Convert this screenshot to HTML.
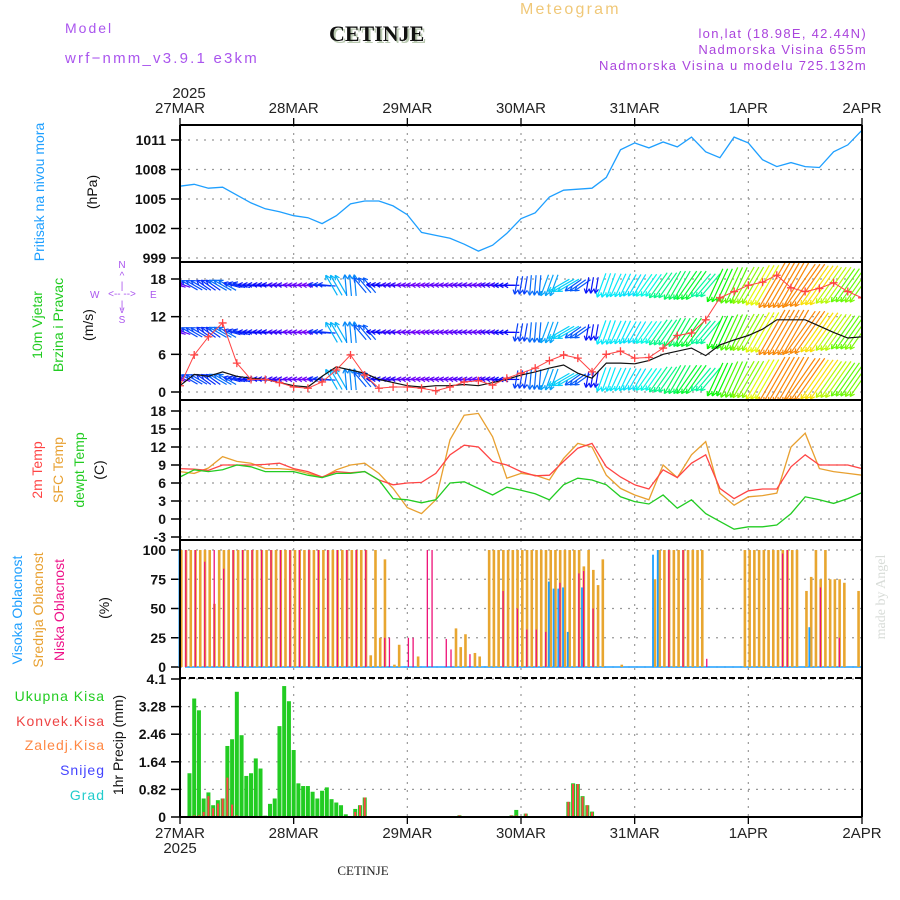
<!DOCTYPE html>
<html><head><meta charset="utf-8"><style>
html,body{margin:0;padding:0;background:#fff;}
svg{display:block;font-family:"Liberation Sans",sans-serif;}
</style></head><body>
<svg id="c" width="900" height="900" viewBox="0 0 900 900" xmlns="http://www.w3.org/2000/svg">
<text x="65" y="33" fill="#aa55ee" font-size="14" letter-spacing="2">Model</text>
<text x="65" y="63" fill="#aa55ee" font-size="15" letter-spacing="2.2">wrf−nmm_v3.9.1 e3km</text>
<text x="331" y="43" font-family="Liberation Serif,serif" font-weight="bold" font-size="22" fill="#b8c8b0">CETINJE</text>
<text x="329" y="41" font-family="Liberation Serif,serif" font-weight="bold" font-size="22" fill="#111">CETINJE</text>
<text x="520" y="14" fill="#f0c878" font-size="16" letter-spacing="2.2">Meteogram</text>
<text x="867" y="38" text-anchor="end" fill="#aa44dd" font-size="13" letter-spacing="1.3">lon,lat (18.98E, 42.44N)</text>
<text x="867" y="54" text-anchor="end" fill="#aa44dd" font-size="13" letter-spacing="1.3">Nadmorska Visina 655m</text>
<text x="867" y="70" text-anchor="end" fill="#aa44dd" font-size="13" letter-spacing="1.3">Nadmorska Visina u modelu 725.132m</text>
<text x="189" y="98" text-anchor="middle" fill="#222" font-size="15">2025</text>
<text x="180" y="853" text-anchor="middle" fill="#222" font-size="15">2025</text>
<text x="363" y="875" text-anchor="middle" font-family="Liberation Serif,serif" font-size="13" fill="#222">CETINJE</text>
<text transform="translate(885,597) rotate(-90)" text-anchor="middle" font-family="Liberation Serif,serif" font-size="14" fill="#d8dcd8">made by Angel</text>
<text transform="translate(44,192) rotate(-90)" text-anchor="middle" fill="#1e9fff" font-size="14">Pritisak na nivou mora</text>
<text transform="translate(97,192) rotate(-90)" text-anchor="middle" fill="#111" font-size="14">(hPa)</text>
<text transform="translate(42,325) rotate(-90)" text-anchor="middle" fill="#22cc22" font-size="14">10m Vjetar</text>
<text transform="translate(63,325) rotate(-90)" text-anchor="middle" fill="#22cc22" font-size="14">Brzina i Pravac</text>
<text transform="translate(93,325) rotate(-90)" text-anchor="middle" fill="#111" font-size="14">(m/s)</text>
<g fill="#aa55ee" font-size="10">
<text x="122" y="268" text-anchor="middle">N</text><text x="122" y="279" text-anchor="middle">^</text><text x="122" y="289" text-anchor="middle">|</text>
<text x="122" y="297" text-anchor="middle">&lt;-- --&gt;</text><text x="90" y="298">W</text><text x="150" y="298">E</text>
<text x="122" y="308" text-anchor="middle">|</text><text x="122" y="313" text-anchor="middle">v</text><text x="122" y="323" text-anchor="middle">S</text>
</g>
<text transform="translate(42,470) rotate(-90)" text-anchor="middle" fill="#ff4444" font-size="14">2m Temp</text>
<text transform="translate(63,470) rotate(-90)" text-anchor="middle" fill="#e8a030" font-size="14">SFC Temp</text>
<text transform="translate(84,470) rotate(-90)" text-anchor="middle" fill="#22cc22" font-size="14">dewpt Temp</text>
<text transform="translate(104,470) rotate(-90)" text-anchor="middle" fill="#111" font-size="14">(C)</text>
<text transform="translate(22,610) rotate(-90)" text-anchor="middle" fill="#1e9fff" font-size="14">Visoka Oblacnost</text>
<text transform="translate(43,610) rotate(-90)" text-anchor="middle" fill="#e8a030" font-size="14">Srednja Oblacnost</text>
<text transform="translate(64,610) rotate(-90)" text-anchor="middle" fill="#ee1188" font-size="14">Niska Oblacnost</text>
<text transform="translate(109,608) rotate(-90)" text-anchor="middle" fill="#111" font-size="14">(%)</text>
<g font-size="14" text-anchor="end" letter-spacing="1">
<text x="105" y="701" fill="#22cc22">Ukupna Kisa</text>
<text x="105" y="726" fill="#ee4444">Konvek.Kisa</text>
<text x="105" y="750" fill="#ff8844">Zaledj.Kisa</text>
<text x="105" y="775" fill="#4444ff">Snijeg</text>
<text x="105" y="800" fill="#22cccc">Grad</text>
</g>
<text transform="translate(123,745) rotate(-90)" text-anchor="middle" fill="#111" font-size="14">1hr Precip (mm)</text>
<g id="plot"></g>
</svg>
<script>
const days=['27MAR','28MAR','29MAR','30MAR','31MAR','1APR','2APR'];
const pressTicks=[999,1002,1005,1008,1011];
const windTicks=[0,6,12,18];
const tempTicks=[-3,0,3,6,9,12,15,18];
const cloudTicks=[0,25,50,75,100];
const precipTicks=[0,0.82,1.64,2.46,3.28,4.1];
const pressure=[1006.3,1006.5,1006.1,1006.2,1005.4,1004.6,1004.0,1003.7,1003.3,1003.1,1002.5,1003.3,1004.5,1004.8,1004.8,1004.3,1003.4,1001.6,1001.3,1001.0,1000.4,999.7,1000.3,1001.5,1003.0,1003.6,1005.2,1005.9,1006.0,1006.1,1007.2,1010.0,1010.7,1010.2,1010.8,1010.3,1011.3,1009.8,1009.2,1011.3,1010.7,1009.0,1008.3,1008.7,1008.3,1008.2,1009.8,1010.5,1012.0];
const windSpeed=[1.0,2.8,2.5,3.2,2.5,2.2,2.0,1.5,1.0,0.8,2.5,4.0,3.5,3.0,2.0,1.5,1.0,0.8,1.0,1.0,1.2,1.0,1.5,2.0,2.7,3.2,3.8,4.3,3.0,2.2,4.6,4.6,4.5,5.0,6.0,6.5,7.0,5.8,7.5,8.3,9.0,10.0,11.5,11.5,11.5,10.5,9.5,8.6,8.8];
const windGust=[1.0,5.9,8.8,11.0,4.6,2.0,2.0,1.5,0.8,0.6,1.6,3.5,5.9,2.7,0.6,0.8,0.8,0.6,0.2,0.8,1.6,1.8,1.1,2.2,3.0,3.8,5.0,5.9,5.4,3.2,6.0,6.5,5.4,5.5,7.0,9.0,9.4,11.5,15.0,16.0,17.0,17.5,18.6,16.6,16.0,16.5,17.4,16.0,15.0];
const windDir=[290,300,305,300,285,275,275,275,275,275,275,330,355,320,275,275,275,275,275,275,275,275,275,270,190,185,200,240,235,190,200,205,210,215,215,210,215,220,205,205,210,210,210,210,215,215,215,215,215];
const temp2m=[8.4,8.3,8.1,9.0,9.0,9.0,9.1,9.3,8.4,7.9,7.0,7.9,7.7,7.9,6.5,5.7,6.0,6.1,7.6,10.7,12.3,12.0,9.6,9.0,7.9,7.2,7.3,9.6,11.8,12.6,8.7,7.0,5.7,5.0,8.2,6.9,9.3,10.7,5.1,3.4,4.7,5.0,5.0,8.7,10.7,9.0,9.0,9.0,8.4];
const tempSfc=[7.9,7.6,8.5,10.4,9.6,9.3,8.4,8.4,8.2,7.6,6.9,8.2,9.0,9.3,7.6,5.1,1.9,0.9,3.2,13.2,17.3,17.6,13.7,6.8,7.6,7.3,6.5,10.1,12.6,12.0,7.3,5.1,4.0,3.2,9.0,6.9,10.7,12.9,4.3,2.3,3.7,3.9,4.3,12.0,14.3,8.4,7.9,7.6,7.3];
const tempDew=[7.0,8.2,7.9,8.2,9.0,8.7,7.9,7.9,7.9,7.3,6.9,7.6,7.6,7.9,6.5,3.4,3.2,2.7,3.2,6.0,6.2,5.1,4.0,5.3,4.8,4.2,3.2,5.7,6.8,6.5,5.7,3.7,2.9,2.5,4.0,1.8,3.2,0.9,-0.4,-1.7,-1.3,-1.3,-1.0,0.9,3.7,3.2,2.6,3.4,4.4];
const cloudMid=[100,100,100,100,100,100,100,54,100,100,100,100,100,100,100,100,100,100,100,100,100,100,100,100,100,100,100,100,100,100,100,100,100,100,100,100,100,100,100,100,10,100,25,92,0,2,19,0,0,0,9,0,0,0,0,0,0,0,33,17,28,0,12,9,0,100,100,100,100,100,100,100,100,100,100,100,100,100,100,100,100,100,100,100,100,86,100,83,70,92,0,0,0,2,0,0,0,0,0,0,75,100,100,100,100,100,100,100,100,100,100,0,0,0,0,0,0,0,0,100,100,100,100,100,100,100,100,100,100,100,100,0,65,77,100,75,100,75,75,75,72,0,0,65,0];
const cloudLow=[0,100,0,100,0,90,0,100,0,84,0,100,0,100,0,100,0,100,0,100,0,100,0,100,0,100,0,100,0,100,0,100,0,100,0,100,0,100,0,100,0,0,0,25,25,0,0,0,25,25,0,0,100,100,0,0,24,15,0,0,0,11,0,0,0,0,0,0,65,0,0,50,0,32,0,32,0,30,0,0,72,0,0,0,80,82,0,50,0,0,0,0,0,0,0,0,0,0,0,0,0,0,0,100,0,0,100,0,0,0,0,7,0,0,0,0,0,0,0,0,0,0,0,0,0,0,0,97,100,0,0,0,0,0,0,68,0,0,0,25,0,0,0,0,0];
const cloudHigh=[100,0,0,0,0,0,0,0,0,0,0,0,0,0,0,0,0,0,0,0,0,0,0,0,0,0,0,0,0,0,0,0,0,0,0,0,0,0,0,0,0,0,0,0,0,0,0,0,0,0,0,0,0,0,0,0,0,0,0,0,0,0,0,0,0,0,0,0,0,0,0,0,0,0,0,0,0,0,73,67,67,68,30,0,0,68,0,0,0,0,0,0,0,0,0,0,0,0,0,0,96,100,0,0,0,0,0,0,0,0,0,0,0,0,0,0,0,0,0,0,0,0,0,0,0,0,0,0,0,0,0,0,0,34,0,0,0,0,0,0,0,0,0,0,0];
const precipHours=[2,3,4,5,6,7,8,9,10,11,12,13,14,15,16,17,18,19,20,21,22,23,24,25,26,27,28,29,30,31,32,33,34,35,36,37,38,39,59,70,71,73,82,83,84,85,86,87];
const precipTotal=[1.30,3.52,3.17,0.55,0.73,0.35,0.50,0.55,2.11,2.31,3.72,2.43,1.22,1.30,1.74,1.44,0.04,0.39,0.55,2.70,3.89,3.44,1.99,1.00,0.92,0.92,0.75,0.55,0.78,0.88,0.53,0.43,0.35,0.08,0.01,0.24,0.35,0.58,0.05,0.05,0.21,0.10,0.45,1.00,0.98,0.62,0.35,0.16];
const precipConv=[0,0.05,0.05,0.15,0.62,0.26,0.40,0.55,1.17,0.37,0.05,0.03,0.03,0,0,0,0,0,0,0,0,0,0,0,0,0,0,0,0,0,0,0.02,0,0.01,0,0.15,0.35,0.58,0.05,0.05,0.05,0.10,0.45,0.98,0.98,0.60,0.35,0.14];

const NS='http://www.w3.org/2000/svg';
const plot=document.getElementById('plot');
function mk(tag,attrs,parent){const e=document.createElementNS(NS,tag);for(const k in attrs)e.setAttribute(k,attrs[k]);(parent||plot).appendChild(e);return e;}
const X0=180,X1=862,HOURS=144;
function xs(h){return X0+(X1-X0)*h/HOURS;}
function lin(d0,d1,p0,p1){return v=>p0+(v-d0)*(p1-p0)/(d1-d0);}
const panels=[
 {top:125,bot:262,y:lin(999,1011,258,140),ticks:pressTicks,name:'pressure'},
 {top:262,bot:400,y:lin(0,18,392,279),ticks:windTicks,name:'wind'},
 {top:400,bot:540,y:lin(0,18,519,411),ticks:tempTicks,name:'temperature'},
 {top:540,bot:678,y:lin(0,100,667,550),ticks:cloudTicks,name:'cloud'},
 {top:678,bot:817,y:lin(0,4.1,817,679),ticks:precipTicks,name:'precip'}
];
panels.forEach((p,pi)=>{
  const g=mk('g',{});
  
  
  p.g=g;
  p.ticks.forEach(t=>{
    const y=p.y(t);
    const gl=mk('line',{x1:X0,x2:X1,y1:y,y2:y,stroke:'#999','stroke-width':1.2,'stroke-dasharray':'2,6'},g);
    
    
    mk('line',{x1:X0-9,x2:X0,y1:y,y2:y,stroke:'#000','stroke-width':1.5},g);
    const tl=mk('text',{x:X0-14,y:y+5,'text-anchor':'end','font-size':14,'font-weight':'bold',fill:'#111'},g);
    tl.textContent=t;
    
    
  });
  for(let d=1;d<days.length-1;d++){
    const x=xs(d*24);
    mk('line',{x1:x,x2:x,y1:p.top,y2:p.bot,stroke:'#999','stroke-width':1.2,'stroke-dasharray':'2,6'},g);
  }
});
{
  const p=panels[0];
  const pts=pressure.map((v,i)=>xs(i*3).toFixed(1)+','+p.y(v).toFixed(1)).join(' ');
  const l=mk('polyline',{points:pts,fill:'none',stroke:'#1e9fff','stroke-width':1.3},p.g);
  
  
}
{
  const p=panels[1];
  const cp=mk('clipPath',{id:'wclip'},p.g);
  mk('rect',{x:X0,y:p.top+1,width:X1-X0,height:p.bot-p.top-2},cp);
  const wg=mk('g',{'clip-path':'url(#wclip)'},p.g);
  const rows=[17,9.5,2];
  function col(s){let h=285-s*22;if(h<0)h+=360;return 'hsl('+h.toFixed(0)+',95%,50%)';}
  rows.forEach(r=>{
    windSpeed.forEach((s,i)=>{
      [-1,0,1].forEach(off=>{
        const h=i*3+off; if(h<0||h>HOURS) return;
        const cx=xs(h),cy=p.y(r);
        const len=8+3.8*s;
        const a=windDir[i]*Math.PI/180;
        const dx=Math.sin(a)*len/2,dy=-Math.cos(a)*len/2;
        const x1=cx-dx,y1=cy-dy,x2=cx+dx,y2=cy+dy;
        const ag=mk('g',{stroke:col(s),'stroke-width':1.2,fill:'none'},wg);
        
        
        mk('line',{x1:x1,y1:y1,x2:x2,y2:y2},ag);
        const hl=5,ang=Math.atan2(y2-y1,x2-x1);
        [0.5,-0.5].forEach(o=>mk('line',{x1:x2,y1:y2,x2:x2-hl*Math.cos(ang+o),y2:y2-hl*Math.sin(ang+o)},ag));
      });
    });
  });
  const sl=mk('polyline',{points:windSpeed.map((v,i)=>xs(i*3).toFixed(1)+','+p.y(v).toFixed(1)).join(' '),fill:'none',stroke:'#111','stroke-width':1.2},wg);
  
  
  const gl=mk('polyline',{points:windGust.map((v,i)=>xs(i*3).toFixed(1)+','+p.y(v).toFixed(1)).join(' '),fill:'none',stroke:'#ff4444','stroke-width':1},wg);
  
  
  windGust.forEach((v,i)=>{
    const x=xs(i*3),y=p.y(v);
    const m=mk('path',{d:`M${x-4},${y}H${x+4}M${x},${y-4}V${y+4}`,stroke:'#ff4444','stroke-width':1.3},wg);
    
    
  });
}
{
  const p=panels[2];
  [[tempSfc,'#e8a030','sfc-temp-line'],[temp2m,'#ff4444','temp-2m-line'],[tempDew,'#22cc22','dewpoint-line']].forEach(([arr,c,n])=>{
    const l=mk('polyline',{points:arr.map((v,i)=>xs(i*3).toFixed(1)+','+p.y(v).toFixed(1)).join(' '),fill:'none',stroke:c,'stroke-width':1.3},p.g);
    
    
  });
}
{
  const p=panels[3];
  const base=p.y(0);
  const bl=mk('line',{x1:X0+5,x2:X1,y1:base,y2:base,stroke:'#1e9fff','stroke-width':1.5},p.g);
  
  
  cloudMid.forEach((v,i)=>{ if(v<=0)return; const x=xs(i)+1;
    const r=mk('rect',{x:x-1,y:p.y(v),width:2.6,height:base-p.y(v),fill:'#e8a630'},p.g);
    
    });
  cloudLow.forEach((v,i)=>{ if(v<=0)return; const x=xs(i)+1;
    const r=mk('rect',{x:x-0.6,y:p.y(v),width:1.3,height:base-p.y(v),fill:'#ee1177'},p.g);
    
    });
  cloudHigh.forEach((v,i)=>{ if(v<=0)return; const x=xs(i)+1;
    const r=mk('rect',{x:x-2.5,y:p.y(v),width:1.8,height:base-p.y(v),fill:'#1e9fff'},p.g);
    
    });
}
{
  const p=panels[4];
  const base=p.y(0);
  precipHours.forEach((h,i)=>{
    const x=xs(h);
    const t=precipTotal[i],c=precipConv[i];
    if(t>0){const r=mk('rect',{x:x-2,y:p.y(t),width:4,height:base-p.y(t),fill:'#22cc22'},p.g);
      
      }
    if(c>0){const r=mk('rect',{x:x-1,y:p.y(c),width:2,height:base-p.y(c),fill:'#ff4444'},p.g);
      
      }
  });
}
panels.forEach((p,i)=>{
  mk('line',{x1:X0,x2:X0,y1:p.top,y2:p.bot,stroke:'#000','stroke-width':2});
  mk('line',{x1:X1,x2:X1,y1:p.top,y2:p.bot,stroke:'#000','stroke-width':2});
  mk('line',{x1:X0,x2:X1,y1:p.top,y2:p.top,stroke:'#000','stroke-width':2,'stroke-dasharray':i==4?'6,3':'none'});
});
mk('line',{x1:X0,x2:X1,y1:817,y2:817,stroke:'#000','stroke-width':2});
days.forEach((d,i)=>{
  const x=xs(i*24);
  mk('line',{x1:x,x2:x,y1:118,y2:125,stroke:'#000','stroke-width':1.3});
  mk('line',{x1:x,x2:x,y1:817,y2:824,stroke:'#000','stroke-width':1.3});
  const t=mk('text',{x:x,y:113,'text-anchor':'middle','font-size':15,fill:'#222'});
  t.textContent=d;
  
  
  const b=mk('text',{x:x,y:838,'text-anchor':'middle','font-size':15,fill:'#222'});
  b.textContent=d;
  
  
});
</script>
</body></html>
